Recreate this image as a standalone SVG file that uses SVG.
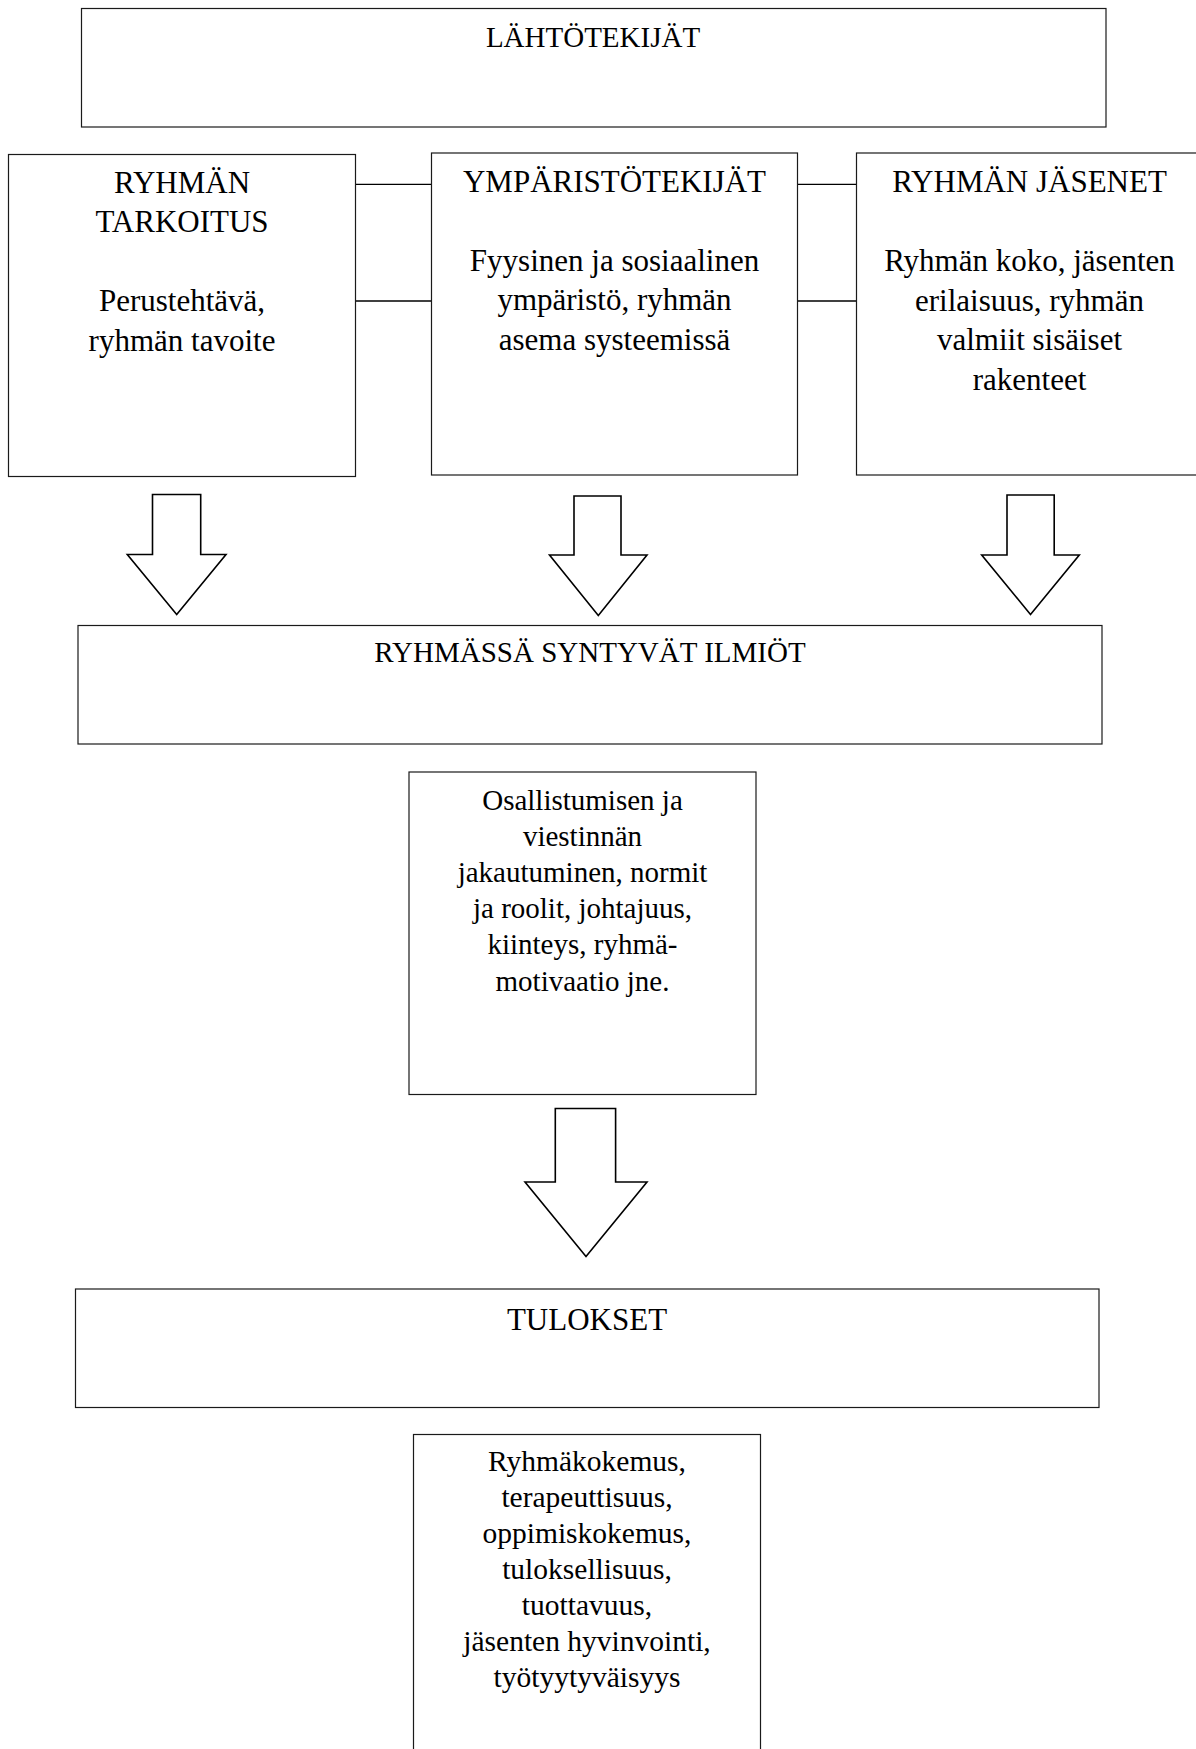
<svg xmlns="http://www.w3.org/2000/svg" width="1196" height="1749" viewBox="0 0 1196 1749">
<style>
.box{fill:#fff;stroke:#1a1a1a;stroke-width:1.2}
.arrow{fill:#fff;stroke:#000;stroke-width:1.6;stroke-linejoin:miter}
.link{stroke:#000;stroke-width:1.3;fill:none}
text{font-family:"Liberation Serif","Times New Roman",serif;fill:#000;text-anchor:middle}
.h{font-size:29px}
.c{font-size:31px}
.s{font-size:29.5px}
</style>
<rect width="1196" height="1749" fill="#fff"/>
<g id="connectors">
<line class="link" x1="355.5" y1="184.3" x2="431.5" y2="184.3"/>
<line class="link" x1="355.5" y1="301" x2="431.5" y2="301"/>
<line class="link" x1="797.5" y1="184.3" x2="856.5" y2="184.3"/>
<line class="link" x1="797.5" y1="301" x2="856.5" y2="301"/>
<polygon class="arrow" points="152.5,494.5 200.7,494.5 200.7,554.5 226,554.5 176.7,614.5 127.3,554.5 152.5,554.5"/>
<polygon class="arrow" points="574,496 621,496 621,555 647,555 598.3,615.5 549.5,555 574,555"/>
<polygon class="arrow" points="1007,495 1054.2,495 1054.2,555 1079.3,555 1030.5,614.5 981.7,555 1007,555"/>
<polygon class="arrow" points="555.3,1108.5 615.6,1108.5 615.6,1182 647,1182 586,1256.5 525,1182 555.3,1182"/>
</g>
<g id="lahtotekijat">
<rect class="box" x="81.5" y="8.5" width="1024.5" height="118.5"/>
<text class="h" x="593" y="46.7">LÄHTÖTEKIJÄT</text>
</g>
<g id="ryhman-tarkoitus">
<rect class="box" x="8.5" y="154.5" width="347" height="322"/>
<text class="c" x="182" y="193">RYHMÄN</text>
<text class="c" x="182" y="232">TARKOITUS</text>
<text class="c" x="182" y="311">Perustehtävä,</text>
<text class="c" x="182" y="351">ryhmän tavoite</text>
</g>
<g id="ymparistotekijat">
<rect class="box" x="431.5" y="153" width="366" height="322"/>
<text class="c" x="614.5" y="192">YMPÄRISTÖTEKIJÄT</text>
<text class="c" x="614.5" y="270.5">Fyysinen ja sosiaalinen</text>
<text class="c" x="614.5" y="310">ympäristö, ryhmän</text>
<text class="c" x="614.5" y="350">asema systeemissä</text>
</g>
<g id="ryhman-jasenet">
<rect class="box" x="856.5" y="153" width="346" height="322"/>
<text class="c" x="1029.5" y="192">RYHMÄN JÄSENET</text>
<text class="c" x="1029.5" y="271">Ryhmän koko, jäsenten</text>
<text class="c" x="1029.5" y="310.5">erilaisuus, ryhmän</text>
<text class="c" x="1029.5" y="350">valmiit sisäiset</text>
<text class="c" x="1029.5" y="390">rakenteet</text>
</g>
<g id="ryhmassa-syntyvat-ilmiot">
<rect class="box" x="78" y="625.5" width="1024" height="118.5"/>
<text class="h" x="590" y="662">RYHMÄSSÄ SYNTYVÄT ILMIÖT</text>
</g>
<g id="ilmiot-sisalto">
<rect class="box" x="409" y="772" width="347" height="322.5"/>
<text class="h" x="582.5" y="809.5">Osallistumisen ja</text>
<text class="h" x="582.5" y="845.7">viestinnän</text>
<text class="h" x="582.5" y="881.9">jakautuminen, normit</text>
<text class="h" x="582.5" y="918.1">ja roolit, johtajuus,</text>
<text class="h" x="582.5" y="954.3">kiinteys, ryhmä-</text>
<text class="h" x="582.5" y="990.5">motivaatio jne.</text>
</g>
<g id="tulokset">
<rect class="box" x="75.5" y="1289" width="1023.5" height="118.5"/>
<text class="c" x="587" y="1329.5">TULOKSET</text>
</g>
<g id="tulokset-sisalto">
<rect class="box" x="413.5" y="1434.5" width="347" height="330"/>
<text class="s" x="587" y="1470.5">Ryhmäkokemus,</text>
<text class="s" x="587" y="1506.6">terapeuttisuus,</text>
<text class="s" x="587" y="1542.7">oppimiskokemus,</text>
<text class="s" x="587" y="1578.8">tuloksellisuus,</text>
<text class="s" x="587" y="1614.9">tuottavuus,</text>
<text class="s" x="587" y="1651">jäsenten hyvinvointi,</text>
<text class="s" x="587" y="1687.1">työtyytyväisyys</text>
</g>
</svg>
